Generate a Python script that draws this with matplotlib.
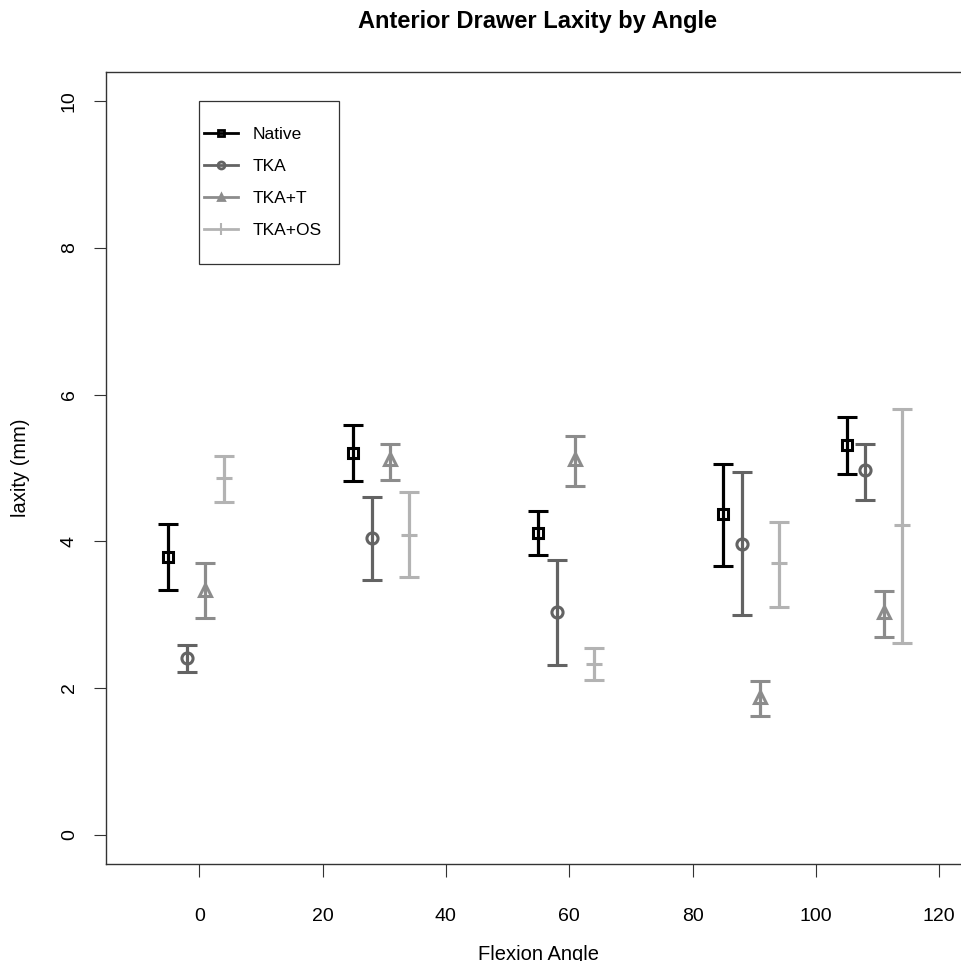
import matplotlib
matplotlib.use("Agg")
import matplotlib.pyplot as plt
from matplotlib.patches import Rectangle
import numpy as np

plt.rcParams['font.family'] = ['Liberation Sans', 'DejaVu Sans']

# datos
angulos = np.array([0, 30, 60, 90, 110])
grupos = ['Native', 'TKA', 'TKA+T', 'TKA+OS']
desplaz = [-5, -2, 1, 4]

media = {
    'Native': [3.79, 5.21, 4.12, 4.37, 5.32],
    'TKA':    [2.41, 4.04, 3.03, 3.97, 4.97],
    'TKA+T':  [3.34, 5.12, 5.12, 1.88, 3.04],
    'TKA+OS': [4.86, 4.08, 2.33, 3.70, 4.22],
}
inferior = {
    'Native': [3.33, 4.82, 3.82, 3.67, 4.92],
    'TKA':    [2.22, 3.47, 2.31, 3.00, 4.57],
    'TKA+T':  [2.95, 4.84, 4.75, 1.62, 2.69],
    'TKA+OS': [4.54, 3.52, 2.11, 3.11, 2.62],
}
superior = {
    'Native': [4.24, 5.59, 4.42, 5.06, 5.70],
    'TKA':    [2.59, 4.60, 3.74, 4.94, 5.33],
    'TKA+T':  [3.70, 5.33, 5.43, 2.09, 3.32],
    'TKA+OS': [5.17, 4.67, 2.55, 4.26, 5.80],
}

colores = {'Native': '#000000', 'TKA': '#636363', 'TKA+T': '#8c8c8c', 'TKA+OS': '#b3b3b3'}
marcas = {'Native': 's', 'TKA': 'o', 'TKA+T': '^', 'TKA+OS': '_'}
tamanos = {'Native': 7, 'TKA': 8, 'TKA+T': 9, 'TKA+OS': 11}

fig = plt.figure(figsize=(9.62, 9.61), dpi=100)
ax = fig.add_axes([0.1097, 0.1009, 0.9000, 0.8242])

proxies = []
for g, d in zip(grupos, desplaz):
    m = np.array(media[g])
    lo = m - np.array(inferior[g])
    hi = np.array(superior[g]) - m
    ax.errorbar(angulos + d, m, yerr=[lo, hi], fmt=marcas[g], color=colores[g],
                ms=tamanos[g], mfc='none', mec=colores[g], mew=2.2,
                elinewidth=2.3, capsize=7.5, capthick=2.3)
    h, = ax.plot([], [], marker=marcas[g], color=colores[g], lw=2, ms=5,
                 mfc='none' if g in ('Native', 'TKA') else colores[g],
                 mew=2 if g != 'TKA+OS' else 1.5)
    if g == 'TKA+OS':
        h.set_marker('|')
        h.set_markersize(9)
    proxies.append(h)

ax.set_xlim(-15.2, 125.2)
ax.set_ylim(-0.4, 10.4)
ax.set_xticks([0, 20, 40, 60, 80, 100, 120])
ax.set_yticks([0, 2, 4, 6, 8, 10])
ax.tick_params(axis='x', length=9, width=0.8, pad=23, labelsize=14, color='#333333')
ax.tick_params(axis='y', length=9, width=0.8, pad=11, labelsize=14, color='#333333')
for lbl in ax.get_yticklabels():
    lbl.set_rotation(90)
    lbl.set_va('center')
for s in ax.spines.values():
    s.set_color('#333333')
    s.set_linewidth(1.0)

ax.set_xlabel('Flexion Angle', fontsize=14.5, labelpad=14)
ax.set_ylabel('laxity (mm)', fontsize=14.5, labelpad=22)
fig.text(0.559, 0.978, 'Anterior Drawer Laxity by Angle', ha='center', va='center',
         fontsize=17, fontweight='bold')

# leyenda
ax.add_patch(Rectangle((0.1081, 0.7576), 0.1619, 0.2058, transform=ax.transAxes,
                       fill=False, edgecolor='#333333', lw=0.9))
ax.legend(proxies, grupos, loc='upper left', bbox_to_anchor=(0.1135, 0.9305),
          frameon=False, borderpad=0, borderaxespad=0, handlelength=1.95,
          handletextpad=0.86, labelspacing=0.97, fontsize=12.5)

fig.savefig('out.png', dpi=100)
